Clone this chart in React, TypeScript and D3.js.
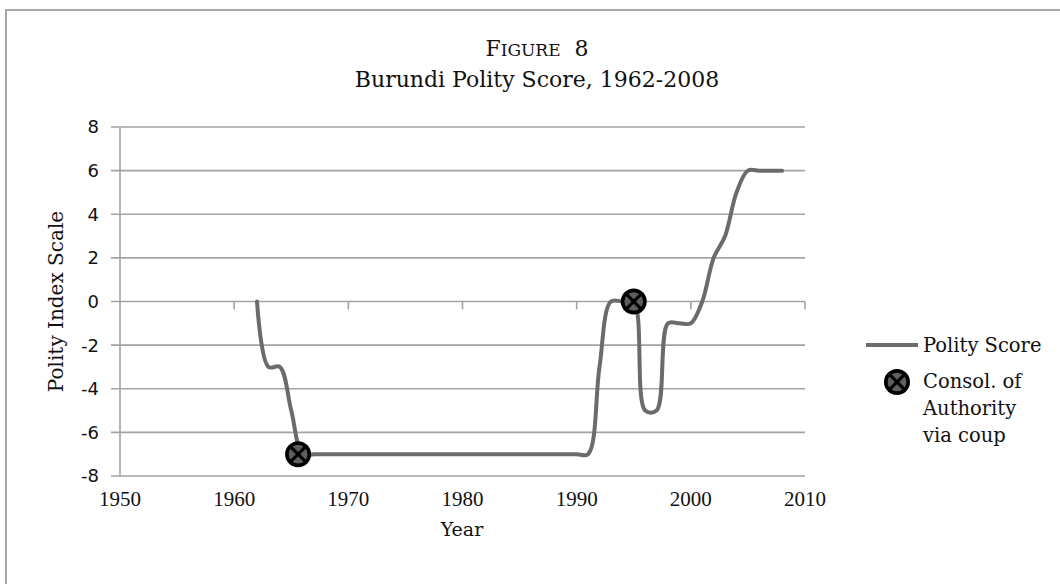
import React from "react";
import * as d3 from "d3";

const years = [
  1962, 1963, 1964, 1965, 1966, 1967, 1968, 1969, 1970, 1971, 1972, 1973, 1974, 1975, 1976, 1977,
  1978, 1979, 1980, 1981, 1982, 1983, 1984, 1985, 1986, 1987, 1988, 1989, 1990, 1991, 1992, 1993,
  1994, 1995, 1996, 1997, 1998, 1999, 2000, 2001, 2002, 2003, 2004, 2005, 2006, 2007, 2008,
];
const polityScore = [
  0, -3, -3, -5, -7, -7, -7, -7, -7, -7, -7, -7, -7, -7, -7, -7,
  -7, -7, -7, -7, -7, -7, -7, -7, -7, -7, -7, -7, -7, -7, -3, 0,
  0, 0, -5, -5, -1, -1, -1, 0, 2, 3, 5, 6, 6, 6, 6,
];
const coupYears = [1965.6, 1995];
const coupValues = [-7, 0];
const xTicks = [1950, 1960, 1970, 1980, 1990, 2000, 2010];
const yTicks = [-8, -6, -4, -2, 0, 2, 4, 6, 8];
const legendLabels = ["Polity Score", "Consol. of", "Authority", "via coup"];

const SERIF = "'DejaVu Serif', serif";
const DIGITS = "'Liberation Serif', serif";
const SANS = "'DejaVu Sans', sans-serif";
const GRID = "#a3a3a3";
const LINE = "#6b6b6b";

function Marker({ cx, cy, r }: { cx: number; cy: number; r: number }) {
  const d = r * 0.62;
  return (
    <g transform={`translate(${cx},${cy})`}>
      <circle r={r} fill="#000" />
      <circle r={r * 0.72} fill="#5e5e5e" />
      <line x1={-d} y1={-d} x2={d} y2={d} stroke="#000" strokeWidth={r * 0.24} />
      <line x1={-d} y1={d} x2={d} y2={-d} stroke="#000" strokeWidth={r * 0.24} />
    </g>
  );
}

export default function App() {
  const x = d3.scaleLinear().domain([1950, 2010]).range([120, 805]);
  const y = d3.scaleLinear().domain([-8, 8]).range([476, 127]);
  const pts = years.map((yr, i) => [x(yr), y(polityScore[i])] as [number, number]);
  const line = d3.line().curve(d3.curveCatmullRom.alpha(0.5))(pts) || "";

  return (
    <svg
      width={1060}
      height={584}
      style={{ position: "absolute", left: 0, top: 0, background: "#fff" }}
    >
      <rect x={6} y={10} width={1070} height={590} fill="#fff" stroke="#a8a8a8" strokeWidth={2} />

      <text x={537} y={56} textAnchor="middle" fontFamily={SERIF} fontSize={22} fill="#111">
        F<tspan fontSize={17}>IGURE</tspan>{"\u00a0\u00a08"}
      </text>
      <text x={537} y={87} textAnchor="middle" fontFamily={SERIF} fontSize={22} fill="#111">
        Burundi Polity Score, 1962-2008
      </text>

      {yTicks.map((t) => (
        <g key={t}>
          <line x1={111} x2={805} y1={y(t)} y2={y(t)} stroke={GRID} strokeWidth={1.6} />
          <text
            x={99}
            y={y(t)}
            dy="0.36em"
            textAnchor="end"
            fontFamily={SANS}
            fontSize={18}
            fill="#111"
          >
            {t}
          </text>
        </g>
      ))}
      <line x1={x(1950)} x2={x(1950)} y1={y(8)} y2={y(-8)} stroke={GRID} strokeWidth={1.6} />
      {xTicks.slice(1).map((t) => (
        <line key={t} x1={x(t)} x2={x(t)} y1={y(0)} y2={y(0) + 8} stroke={GRID} strokeWidth={1.6} />
      ))}
      {xTicks.map((t) => (
        <text key={t} x={x(t)} y={506} textAnchor="middle" fontFamily={DIGITS} fontSize={21} fill="#111">
          {t}
        </text>
      ))}
      <text x={462} y={536} textAnchor="middle" fontFamily={SERIF} fontSize={19} fill="#111">
        Year
      </text>
      <text
        transform={`translate(63,${y(0)}) rotate(-90)`}
        textAnchor="middle"
        fontFamily={SERIF}
        fontSize={20}
        fill="#111"
      >
        Polity Index Scale
      </text>

      <path d={line} fill="none" stroke={LINE} strokeWidth={4} strokeLinejoin="round" strokeLinecap="round" />
      {coupYears.map((yr, i) => (
        <Marker key={yr} cx={x(yr)} cy={y(coupValues[i])} r={13} />
      ))}

      <line x1={866} x2={918} y1={345} y2={345} stroke={LINE} strokeWidth={4} />
      <text x={923} y={352} fontFamily={SERIF} fontSize={19.5} fill="#111">
        {legendLabels[0]}
      </text>
      <Marker cx={897} cy={382} r={13} />
      {legendLabels.slice(1).map((s, i) => (
        <text key={s} x={923} y={388 + i * 27} fontFamily={SERIF} fontSize={19.5} fill="#111">
          {s}
        </text>
      ))}
    </svg>
  );
}
